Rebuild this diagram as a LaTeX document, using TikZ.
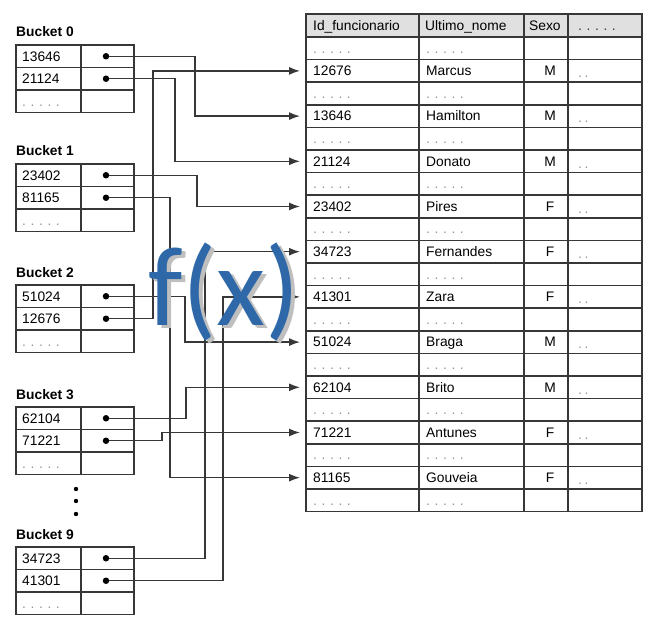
\documentclass[tikz,border=0pt]{standalone}
\usepackage{fontspec}
\setmainfont{Liberation Sans}
\newfontfamily\fxfont{Carlito}
\usetikzlibrary{arrows.meta}

\definecolor{linegray}{RGB}{55,55,55}
\definecolor{dotgray}{RGB}{150,150,150}
\definecolor{headgray}{RGB}{224,224,224}
\definecolor{fxblue}{RGB}{46,104,168}

\newcommand{\fivedots}{.\hspace{4.6pt}.\hspace{4.6pt}.\hspace{4.6pt}.\hspace{4.6pt}.}

\tikzset{
  cell/.style={draw=linegray, line width=1.5pt},
  txt/.style={anchor=west, inner sep=0pt, text height=9.6pt, text depth=0pt},
  filler/.style={txt, text=dotgray},
  ptr/.style={circle, fill=black, inner sep=0pt, minimum size=6.5pt},
  link/.style={draw=linegray, line width=1.4pt, shorten >=13pt, -{Latex[length=11pt,width=8pt]}},
  fx/.style={anchor=base west, inner sep=0pt, font=\fxfont\fontsize{113}{113}\selectfont}
}

\begin{document}
\begin{tikzpicture}[x=1pt, y=-1pt, font=\fontsize{13.8}{16}\selectfont]
\useasboundingbox[fill=white] (0,0) rectangle (658,631);

% buckets
\foreach \b/\yb/\ka/\kb in {0/45/13646/21124, 1/164/23402/81165, 2/285/51024/12676, 3/407/62104/71221, 9/547/34723/41301} {
  \node[anchor=base west, inner sep=0pt, font=\bfseries\fontsize{13.8}{16}\selectfont] (bk\b) at (16,\yb-8) {Bucket \b};
  \draw[cell] (16,\yb) rectangle (134,\yb+67.5);
  \draw[cell] (16,\yb+22.5) -- (134,\yb+22.5) (16,\yb+45) -- (134,\yb+45) (81,\yb) -- (81,\yb+67.5);
  \node[txt] (k\ka) at (22,\yb+11.25) {\ka};
  \node[txt] (k\kb) at (22,\yb+33.75) {\kb};
  \node[filler] (kd\b) at (22,\yb+56.25) {\fivedots};
  \node[ptr] (p\ka) at (106,\yb+11.25) {};
  \node[ptr] (p\kb) at (106,\yb+33.75) {};
}
\foreach \y in {489,501,514} \fill (76,\y) circle (2.2pt);

% table
\fill[headgray] (306,14) rectangle (642,37);
\foreach \i in {0,...,21} \draw[cell] (306,37+22.6*\i) -- (642,37+22.6*\i);
\draw[cell] (306,14) rectangle (642,511.6);
\foreach \x in {419,524,568} \draw[cell] (\x,14) -- (\x,511.6);

\node[txt] (hid) at (313,25.5) {Id\_funcionario};
\node[txt] (hnome) at (425,25.5) {Ultimo\_nome};
\node[txt] (hsexo) at (529,25.5) {Sexo};
\node[txt, text=linegray] (hmais) at (578,25.5) {\fivedots};

\foreach \id/\nome/\sx [count=\i] in {12676/Marcus/M, 13646/Hamilton/M, 21124/Donato/M, 23402/Pires/F, 34723/Fernandes/F, 41301/Zara/F, 51024/Braga/M, 62104/Brito/M, 71221/Antunes/F, 81165/Gouveia/F} {
  \node[txt] (r\id) at (313,25.7+45.2*\i) {\id};
  \node[txt] (n\id) at (426,25.7+45.2*\i) {\nome};
  \node[txt, anchor=center] (s\id) at (550,25.7+45.2*\i) {\sx};
  \node[filler] (m\id) at (578,27.7+45.2*\i) {.\hspace{2.5pt}.};
}
\foreach \i in {0,...,10} {
  \node[filler] (da\i) at (313,48.3+45.2*\i) {\fivedots};
  \node[filler] (db\i) at (426,48.3+45.2*\i) {\fivedots};
}

% pointers
\foreach \id/\dx in {13646/89, 21124/69, 23402/91, 81165/64, 12676/47, 51024/79, 62104/80, 71221/56, 34723/99, 41301/117}
  \draw[link] (p\id) -- ++(\dx,0) |- (r\id.west);

% hash function
\node[fx, text=black!25] (fxs) at (152,328) {f(x)};
\node[fx, text=fxblue] (fx) at (148,325) {f(x)};
\end{tikzpicture}
\end{document}
